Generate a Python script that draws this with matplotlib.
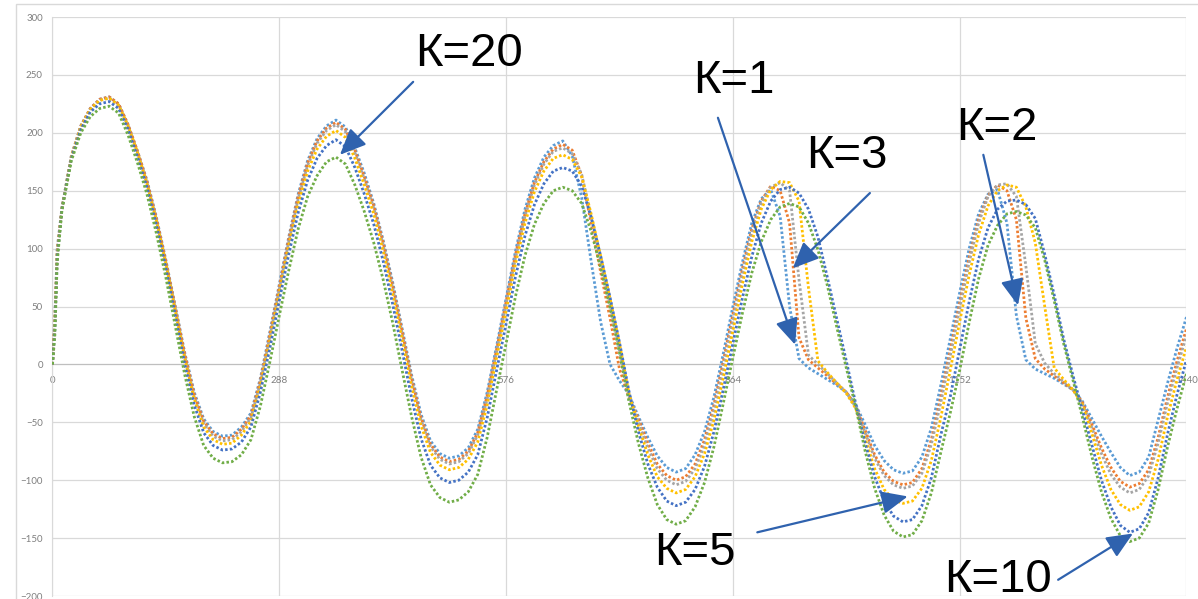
import matplotlib
matplotlib.use('Agg')
import matplotlib.pyplot as plt
from matplotlib.patches import Rectangle

plt.rcParams['font.family'] = ['Liberation Sans', 'DejaVu Sans']

# x: time steps (shared by all series)
X = [0, 3, 6] + list(range(12, 1441, 12))

# values, one list per gain
K1 = [0, 40, 100,
      135, 180, 206, 221, 229, 231, 225, 207, 184, 159, 127,
      90, 50, 10, -24, -47, -58, -62, -61, -54, -42, -12, 28,
      69, 110, 147, 176, 195, 206, 211, 205, 187, 165, 139, 107,
      71, 31, -9, -43, -66, -77, -81, -79, -72, -56, -24, 16,
      57, 98, 134, 161, 179, 189, 193, 180, 144, 89, 37, 0,
      -14, -26, -45, -63, -79, -89, -93, -90, -78, -58, -28, 10,
      50, 88, 122, 143, 151, 128, 50, 5, -3, -8, -13, -18,
      -24, -35, -52, -70, -83, -91, -94, -92, -80, -55, -18, 22,
      62, 100, 130, 147, 151, 122, 42, 4, -4, -8, -12, -17,
      -22, -32, -47, -62, -76, -89, -96, -93, -80, -48, -16, 14,
      41]
K2 = [0, 38, 98,
      135, 180, 206, 221, 229, 231, 225, 207, 184, 158, 126,
      89, 49, 9, -26, -49, -60, -64, -63, -56, -44, -14, 26,
      67, 108, 145, 174, 193, 204, 209, 203, 185, 162, 137, 105,
      68, 29, -12, -46, -69, -80, -84, -82, -75, -59, -27, 13,
      54, 95, 130, 157, 175, 186, 190, 185, 163, 122, 80, 40,
      -4, -28, -47, -68, -86, -96, -100, -97, -86, -65, -35, 3,
      43, 82, 117, 141, 154, 150, 122, 23, 4, -3, -10, -17,
      -24, -36, -57, -78, -93, -101, -104, -102, -90, -65, -28, 12,
      53, 92, 125, 146, 155, 150, 125, 40, 5, -4, -10, -16,
      -22, -33, -52, -72, -89, -101, -106, -103, -91, -63, -28, 3,
      31]
K3 = [0, 36, 96,
      135, 180, 205, 220, 228, 230, 224, 206, 183, 157, 125,
      88, 48, 7, -28, -51, -62, -66, -65, -58, -46, -16, 24,
      65, 106, 143, 172, 191, 202, 207, 201, 183, 160, 135, 103,
      66, 27, -14, -48, -71, -82, -86, -84, -77, -61, -30, 11,
      52, 92, 128, 155, 173, 184, 187, 182, 164, 128, 90, 52,
      12, -27, -50, -72, -90, -100, -104, -101, -90, -70, -40, -3,
      37, 77, 113, 139, 153, 157, 150, 73, 8, 0, -8, -16,
      -24, -37, -59, -81, -96, -104, -107, -105, -94, -69, -33, 7,
      48, 88, 122, 145, 155, 156, 145, 85, 18, 1, -8, -15,
      -22, -34, -55, -77, -95, -106, -111, -108, -96, -68, -33, -3,
      25]
K5 = [0, 35, 95,
      134, 179, 205, 220, 228, 230, 224, 206, 183, 156, 124,
      87, 46, 5, -30, -54, -65, -69, -68, -61, -49, -19, 20,
      61, 102, 138, 167, 186, 197, 202, 196, 178, 155, 130, 98,
      61, 22, -19, -53, -76, -87, -91, -89, -82, -67, -35, 6,
      46, 87, 122, 149, 167, 178, 181, 177, 162, 130, 94, 57,
      18, -25, -53, -78, -97, -107, -111, -108, -97, -77, -48, -11,
      29, 69, 106, 134, 151, 158, 157, 141, 66, 3, -7, -16,
      -25, -38, -64, -90, -108, -117, -120, -118, -107, -83, -46, -5,
      37, 77, 112, 137, 150, 155, 153, 136, 105, 50, -3, -13,
      -22, -35, -60, -87, -108, -121, -126, -123, -110, -82, -45, -13,
      15]
K10 = [0, 30, 92,
       134, 178, 203, 218, 225, 227, 221, 203, 179, 153, 120,
       83, 42, 0, -35, -59, -70, -74, -73, -67, -54, -24, 14,
       55, 95, 131, 159, 178, 189, 194, 188, 170, 147, 121, 89,
       52, 12, -29, -64, -87, -98, -102, -100, -93, -78, -46, -5,
       35, 76, 111, 138, 156, 167, 170, 167, 154, 127, 94, 58,
       19, -23, -58, -86, -106, -118, -122, -119, -108, -88, -58, -21,
       18, 57, 93, 122, 141, 151, 153, 148, 134, 110, 75, 39,
       3, -34, -68, -97, -118, -131, -136, -134, -122, -98, -61, -28,
       13, 54, 91, 118, 134, 141, 142, 138, 126, 95, 60, 22,
       -10, -40, -70, -100, -123, -139, -145, -142, -128, -98, -60, -26,
       4]
K20 = [0, 25, 88,
       133, 176, 200, 214, 221, 223, 217, 198, 174, 147, 113,
       75, 33, -9, -45, -70, -81, -85, -84, -78, -65, -36, 2,
       42, 81, 117, 145, 163, 175, 179, 173, 155, 132, 105, 73,
       36, -5, -45, -80, -104, -115, -119, -117, -110, -95, -63, -22,
       18, 59, 94, 121, 139, 150, 153, 150, 139, 115, 84, 49,
       10, -32, -68, -98, -121, -134, -138, -135, -123, -102, -71, -33,
       6, 44, 79, 106, 125, 136, 139, 136, 122, 99, 68, 32,
       -3, -37, -75, -107, -130, -144, -149, -147, -135, -111, -76, -42,
       -5, 36, 74, 103, 120, 130, 132, 129, 118, 90, 55, 18,
       -14, -46, -80, -110, -133, -148, -153, -150, -137, -108, -71, -38,
       -8]

series = [K1, K2, K3, K5, K10, K20]
colors = ['#5B9BD5', '#ED7D31', '#A5A5A5', '#FFC000', '#4472C4', '#70AD47']

x_ticks = [0, 288, 576, 864, 1152, 1440]
y_ticks = [-200, -150, -100, -50, 0, 50, 100, 150, 200, 250, 300]

# labels: text, text position, arrow start, arrow tip
notes = [
    ('К=20', (460, 258), (458, 244), (365, 181)),
    ('К=1', (813, 234), (845, 213), (943, 17)),
    ('К=3', (957, 170), (1038, 148), (940, 83)),
    ('К=2', (1147, 194), (1182, 181), (1226, 51)),
    ('К=5', (764, -173), (895, -145), (1086, -114)),
    ('К=10', (1132, -196.5), (1277, -186), (1372, -146)),
]

fig = plt.figure(figsize=(11.98, 5.99), dpi=100)
ax = fig.add_axes([0.0438, 0.005, 0.9466, 0.9666])

# chart area frame
fig.patches.append(Rectangle((16 / 1198, -0.1), 1.2, 1.1 - 4.5 / 599,
                             transform=fig.transFigure, fill=False,
                             edgecolor='#D9D9D9', linewidth=1.0))

for ys, c in zip(series, colors):
    ax.plot(X, ys, color=c, linewidth=2.0, linestyle=(0, (0.9, 0.8)), zorder=3)

ax.set_xlim(0, 1440)
ax.set_ylim(-200, 300)
ax.set_xticks(x_ticks)
ax.set_yticks(y_ticks)
ax.grid(True, color='#D9D9D9', linewidth=0.9, zorder=0)
ax.set_axisbelow(True)

for s in ['top', 'right']:
    ax.spines[s].set_visible(False)
ax.spines['bottom'].set_position(('data', 0))
ax.spines['bottom'].set_color('#BFBFBF')
ax.spines['left'].set_color('#D9D9D9')
ax.tick_params(length=0, labelsize=7, labelcolor='#7F7F7F')
ax.tick_params(axis='x', pad=8)
ax.tick_params(axis='y', pad=7)
for lab in ax.get_xticklabels() + ax.get_yticklabels():
    lab.set_family('Lato')

for txt, tpos, start, tip in notes:
    ax.text(tpos[0], tpos[1], txt, fontsize=34, ha='left', va='baseline',
            color='black', zorder=5)
    ax.annotate('', xy=tip, xytext=start, zorder=5,
                arrowprops=dict(arrowstyle='-|>,head_length=0.8,head_width=0.35',
                                color='#2F62AE', linewidth=1.6,
                                shrinkA=0, shrinkB=0, mutation_scale=20))

fig.savefig('out.png', dpi=100, facecolor='white')
